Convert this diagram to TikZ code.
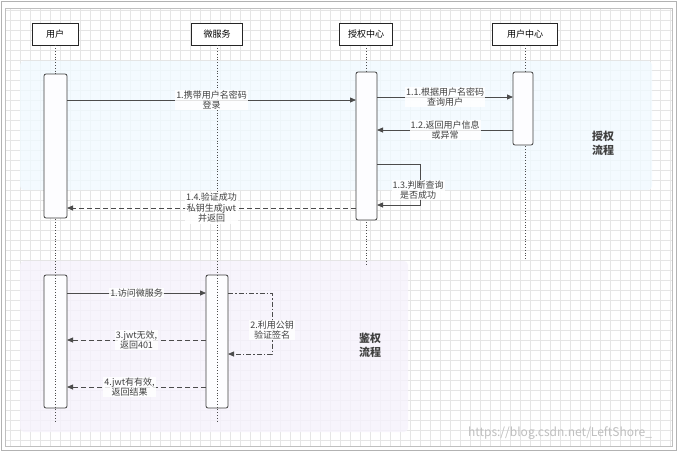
\documentclass[tikz,border=0pt]{standalone}
\usepackage{fontspec}
\setmainfont{Noto Sans CJK SC}
\usetikzlibrary{arrows.meta}
\begin{document}
\begin{tikzpicture}[x=1pt,y=-1pt,font=\fontsize{9}{10.5}\selectfont,
 hdr/.style={draw=black!85,thick,fill=white,minimum height=22pt,inner sep=2pt},
 act/.style={draw=black!75,fill=white!90!blue!6,rounded corners=2pt,thick},
 life/.style={dotted,thick,black!70},
 msg/.style={thick,black!70,-{Triangle[length=6pt,width=5pt]}},
 dmsg/.style={msg,dash pattern=on 5pt off 3pt},
 ddmsg/.style={msg,dash pattern=on 5pt off 2pt on 1.5pt off 2pt},
 lab/.style={fill=white,fill opacity=0.85,text opacity=1,align=center,inner sep=1pt,text=black!75},
 zone/.style={rounded corners=4pt}]
\useasboundingbox (0,0) rectangle (677,451);
\fill[white] (0,0) rectangle (677,451);
\foreach \gx in {10,20,...,670} \draw[black!10] (\gx,8) -- (\gx,446);
\foreach \gy in {10,20,...,440} \draw[black!10] (5,\gy) -- (672,\gy);
\draw[black!30] (1,1) rectangle (676,450);
\draw[black!25] (5,8) rectangle (672,446);
\fill[zone,blue!40!cyan!6,opacity=0.8] (20,61) rectangle (652,190);
\fill[zone,blue!50!violet!5,opacity=0.8] (20,261) rectangle (408,432);
% headers
\node[hdr,minimum width=46pt] (hU) at (55,34) {用户};
\node[hdr,minimum width=51pt] (hM) at (217,34) {微服务};
\node[hdr,minimum width=53pt] (hA) at (366,34) {授权中心};
\node[hdr,minimum width=65pt] (hC) at (525,34) {用户中心};
\coordinate (eU) at (55,423); \coordinate (eM) at (217,423);
\coordinate (eA) at (366,266); \coordinate (eC) at (525,259);
\draw[life] (hU.south) -- (eU); \draw[life] (hM.south) -- (eM);
\draw[life] (hA.south) -- (eA); \draw[life] (hC.south) -- (eC);
% activations
\draw[act] (44,74) rectangle (67,218);
\draw[act] (356,72) rectangle (377,220);
\draw[act] (513,72) rectangle (533,145);
\draw[act] (44,275) rectangle (67,408);
\draw[act] (206,275) rectangle (228,408);
\draw[life] (55,275) -- (55,408); \draw[life] (217,275) -- (217,408);
% messages upper
\coordinate (a1) at (67,100); \coordinate (b1) at (356,100);
\draw[msg] (a1) -- (b1) node[lab,midway] {1.携带用户名密码\\登录};
\coordinate (a2) at (377,97); \coordinate (b2) at (513,97);
\draw[msg] (a2) -- (b2) node[lab,midway] {1.1.根据用户名密码\\查询用户};
\coordinate (a3) at (513,130); \coordinate (b3) at (377,130);
\draw[msg] (a3) -- (b3) node[lab,midway] {1.2.返回用户信息\\或异常};
\coordinate (a4) at (377,164); \coordinate (b4) at (377,205);
\draw[msg] (a4) -- (420,164) -- (420,205) -- (b4);
\node[lab] (l4) at (418,190) {1.3.判断查询\\是否成功};
\coordinate (a5) at (356,208); \coordinate (b5) at (67,208);
\draw[dmsg] (a5) -- (b5) node[lab,midway] {1.4.验证成功\\私钥生成jwt\\并返回};
\node[font=\bfseries\fontsize{11}{14}\selectfont,text=black!75,align=center] (t1) at (603,143) {授权\\流程};
% lower
\coordinate (c1) at (67,293); \coordinate (d1) at (206,293);
\draw[msg] (c1) -- (d1) node[lab,midway] {1.访问微服务};
\coordinate (c2) at (228,293); \coordinate (d2) at (228,354);
\draw[ddmsg] (c2) -- (272,293) -- (272,354) -- (d2);
\node[lab] (l2) at (272,330) {2.利用公钥\\验证签名};
\coordinate (c3) at (206,340); \coordinate (d3) at (67,340);
\draw[dmsg] (c3) -- (d3) node[lab,pos=0.5] {3.jwt无效,\\返回401};
\coordinate (c4) at (206,387); \coordinate (d4) at (67,387);
\draw[dmsg] (c4) -- (d4) node[lab,pos=0.55] {4.jwt有有效,\\返回结果};
\node[font=\bfseries\fontsize{11}{14}\selectfont,text=black!75,align=center] (t2) at (370,345) {鉴权\\流程};
\node[text=black!25,font=\fontsize{12}{13}\selectfont] (wm) at (560,433) {https://blog.csdn.net/LeftShore\_};
\end{tikzpicture}
\end{document}
